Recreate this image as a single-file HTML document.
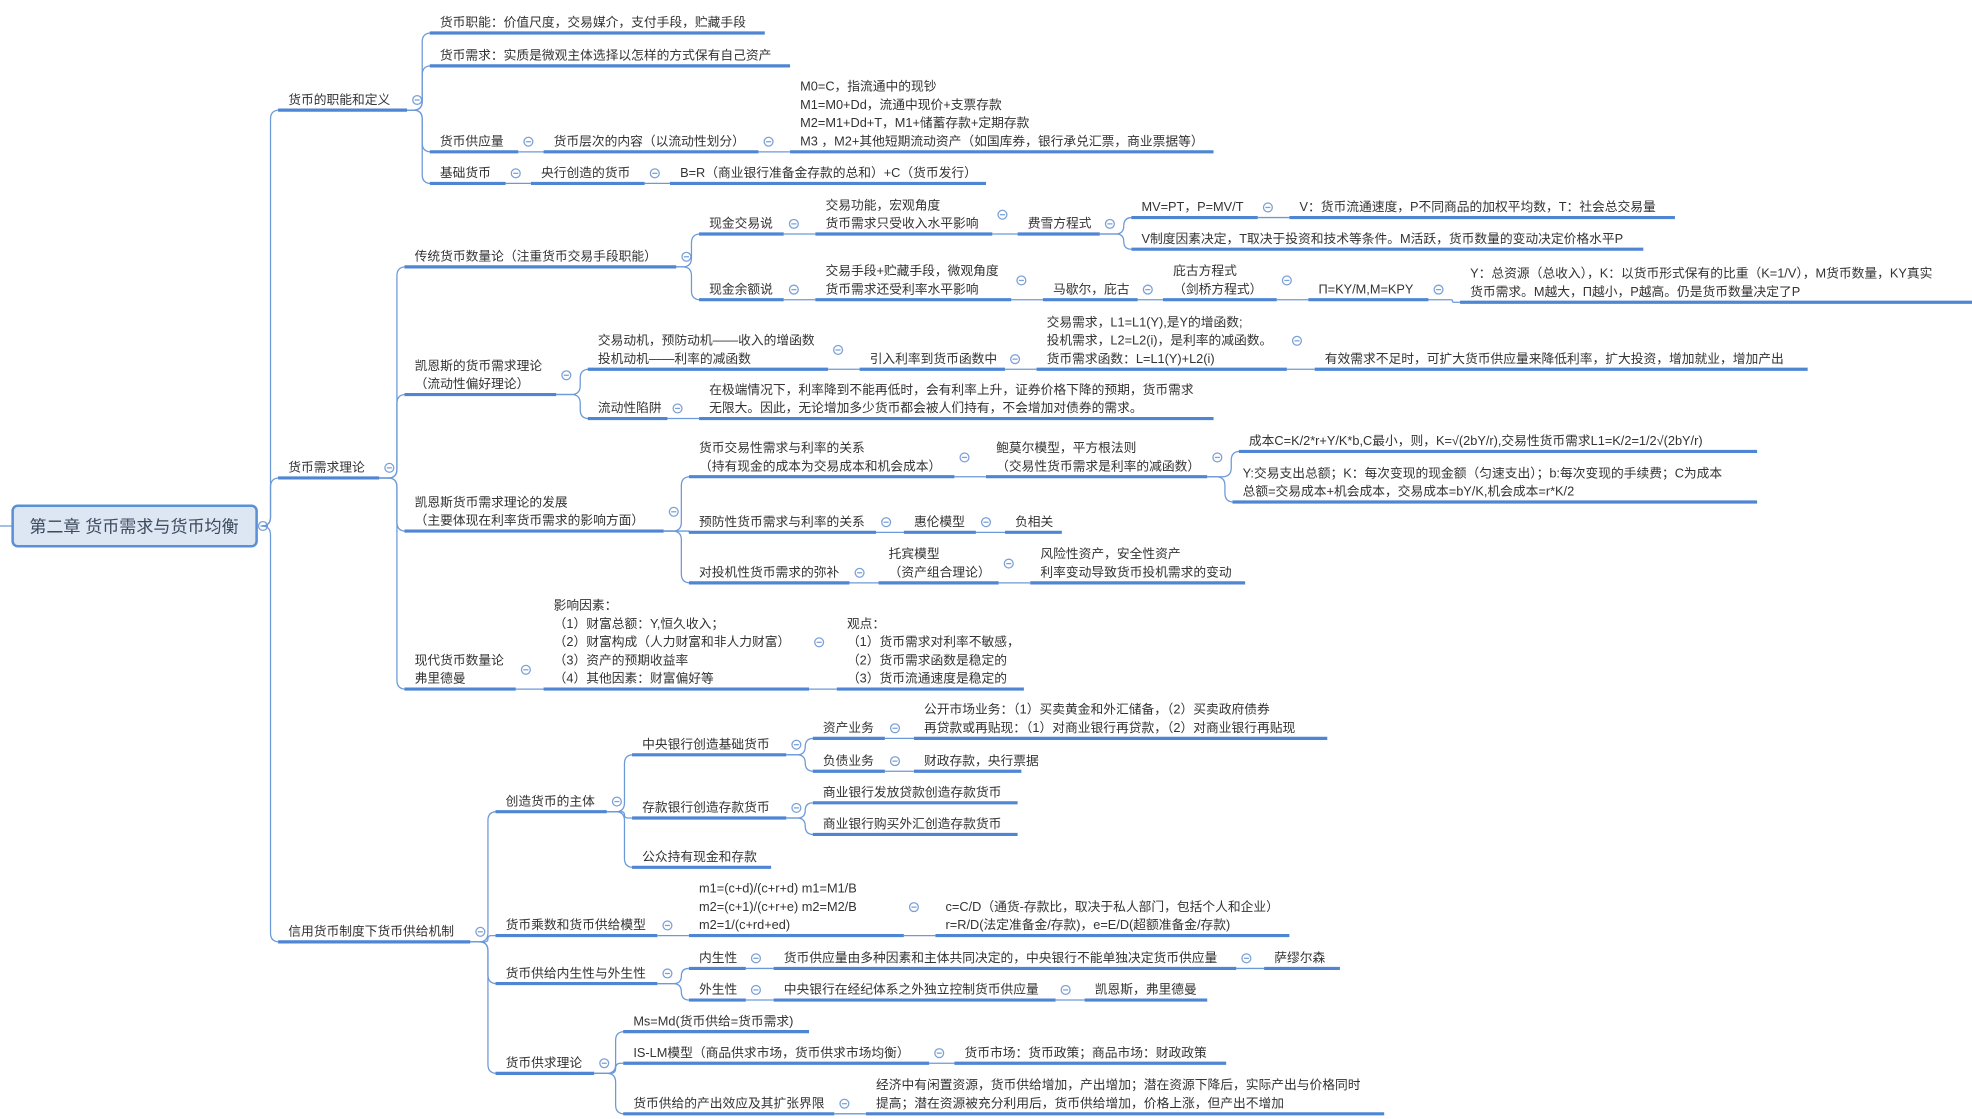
<!DOCTYPE html>
<html><head><meta charset="utf-8"><style>
html,body{margin:0;padding:0;background:#fff;width:1972px;height:1119px;overflow:hidden}
svg text{font-family:"Liberation Sans","Noto Sans CJK SC",sans-serif;font-size:10.1px;fill:#333}
</style></head><body>
<svg id="s" width="1972" height="1119" viewBox="0 0 1560 885" xmlns="http://www.w3.org/2000/svg">
<line x1="0" y1="416" x2="10" y2="416" stroke="#6c9ad8" stroke-width="1"/>
<rect x="10" y="400" width="193" height="32" rx="4" fill="#dde6f3" stroke="#5b8fd6" stroke-width="2"/>
<text x="106" y="421" text-anchor="middle" style="font-size:13.5px;fill:#3b4a5c">第二章  货币需求与货币均衡</text>
<circle cx="208" cy="416" r="3.5" fill="#fff" stroke="#7aa0d6" stroke-width="1"/><line x1="206" y1="416" x2="210" y2="416" stroke="#7aa0d6"/>
<g id="g"></g>
</svg>
<script>
function N(t,x1,x2,y,c,ch){return {t:t,x1:x1,x2:x2,y:y,c:c,ch:ch||[]};}
var tree=[
N(["货币的职能和定义"],220,322,87,1,[
 N(["货币职能：价值尺度，交易媒介，支付手段，贮藏手段"],340,605,26),
 N(["货币需求：实质是微观主体选择以怎样的方式保有自己资产"],340,625,52),
 N(["货币供应量"],340,410,120,1,[
  N(["货币层次的内容（以流动性划分）"],430,600,120,1,[
   N(["M0=C，指流通中的现钞","M1=M0+Dd，流通中现价+支票存款","M2=M1+Dd+T，M1+储蓄存款+定期存款","M3 ，M2+其他短期流动资产（如国库券，银行承兑汇票，商业票据等）"],625,960,120)])]),
 N(["基础货币"],340,400,145,1,[
  N(["央行创造的货币"],420,510,145,1,[
   N(["B=R（商业银行准备金存款的总和）+C（货币发行）"],530,780,145)])])]),
N(["货币需求理论"],220,300,378,1,[
 N(["传统货币数量论（注重货币交易手段职能）"],320,535,211,1,[
  N(["现金交易说"],553,620,185,1,[
   N(["交易功能，宏观角度","货币需求只受收入水平影响"],645,785,185,1,[
    N(["费雪方程式"],805,870,185,1,[
     N(["MV=PT，P=MV/T"],895,995,172,1,[
      N(["V：货币流通速度，P不同商品的加权平均数，T：社会总交易量"],1020,1325,172)]),
     N(["V制度因素决定，T取决于投资和技术等条件。M活跃，货币数量的变动决定价格水平P"],895,1300,197)])])]),
  N(["现金余额说"],553,620,237,1,[
   N(["交易手段+贮藏手段，微观角度","货币需求还受利率水平影响"],645,800,237,1,[
    N(["马歇尔，庇古"],825,900,237,1,[
     N(["庇古方程式","（剑桥方程式）"],920,1010,237,1,[
      N(["Π=KY/M,M=KPY"],1035,1130,237,1,[
       N(["Y：总资源（总收入），K：以货币形式保有的比重（K=1/V），M货币数量，KY真实","货币需求。M越大，Π越小，P越高。仍是货币数量决定了P"],1155,1560,239)])])])])])]),
 N(["凯恩斯的货币需求理论","（流动性偏好理论）"],320,440,312,1,[
  N(["交易动机，预防动机——收入的增函数","投机动机——利率的减函数"],465,655,292,1,[
   N(["引入利率到货币函数中"],680,795,292,1,[
    N(["交易需求，L1=L1(Y),是Y的增函数;","投机需求，L2=L2(i)，是利率的减函数。","货币需求函数：L=L1(Y)+L2(i)"],820,1018,292,1,[
     N(["有效需求不足时，可扩大货币供应量来降低利率，扩大投资，增加就业，增加产出"],1040,1430,292)])])]),
  N(["流动性陷阱"],465,528,331,1,[
   N(["在极端情况下，利率降到不能再低时，会有利率上升，证券价格下降的预期，货币需求","无限大。因此，无论增加多少货币都会被人们持有，不会增加对债券的需求。"],553,960,331)])]),
 N(["凯恩斯货币需求理论的发展","（主要体现在利率货币需求的影响方面）"],320,525,420,1,[
  N(["货币交易性需求与利率的关系","（持有现金的成本为交易成本和机会成本）"],545,755,377,1,[
   N(["鲍莫尔模型，平方根法则","（交易性货币需求是利率的减函数）"],780,955,377,1,[
    N(["成本C=K/2*r+Y/K*b,C最小，则，K=√(2bY/r),交易性货币需求L1=K/2=1/2√(2bY/r)"],980,1390,357),
    N(["Y:交易支出总额；K：每次变现的现金额（匀速支出）；b:每次变现的手续费；C为成本","总额=交易成本+机会成本，交易成本=bY/K,机会成本=r*K/2"],975,1390,397)])]),
  N(["预防性货币需求与利率的关系"],545,693,421,1,[
   N(["惠伦模型"],715,772,421,1,[
    N(["负相关"],795,840,421)])]),
  N(["对投机性货币需求的弥补"],545,672,461,1,[
   N(["托宾模型","（资产组合理论）"],695,790,461,1,[
    N(["风险性资产，安全性资产","利率变动导致货币投机需求的变动"],815,985,461)])])]),
 N(["现代货币数量论","弗里德曼"],320,408,545,1,[
  N(["影响因素：","（1）财富总额：Y,恒久收入；","（2）财富构成（人力财富和非人力财富）","（3）资产的预期收益率","（4）其他因素：财富偏好等"],430,640,545,1,[
   N(["观点：","（1）货币需求对利率不敏感，","（2）货币需求函数是稳定的","（3）货币流通速度是稳定的"],662,810,545)])])]),
N(["信用货币制度下货币供给机制"],220,372,745,1,[
 N(["创造货币的主体"],392,480,642,1,[
  N(["中央银行创造基础货币"],500,622,597,1,[
   N(["资产业务"],643,700,584,1,[
    N(["公开市场业务：（1）买卖黄金和外汇储备，（2）买卖政府债券","再贷款或再贴现：（1）对商业银行再贷款，（2）对商业银行再贴现"],723,1050,584)]),
   N(["负债业务"],643,700,610,1,[
    N(["财政存款，央行票据"],723,808,610)])]),
  N(["存款银行创造存款货币"],500,622,647,1,[
   N(["商业银行发放贷款创造存款货币"],643,805,635),
   N(["商业银行购买外汇创造存款货币"],643,805,660)]),
  N(["公众持有现金和存款"],500,610,686)]),
 N(["货币乘数和货币供给模型"],392,520,740,1,[
  N(["m1=(c+d)/(c+r+d)    m1=M1/B","m2=(c+1)/(c+r+e)    m2=M2/B","   m2=1/(c+rd+ed)"],545,715,740,1,[
   N(["c=C/D（通货-存款比，取决于私人部门，包括个人和企业）","r=R/D(法定准备金/存款)，e=E/D(超额准备金/存款)"],740,1020,740)])]),
 N(["货币供给内生性与外生性"],392,520,778,1,[
  N(["内生性"],545,590,766,1,[
   N(["货币供应量由多种因素和主体共同决定的，中央银行不能单独决定货币供应量"],612,978,766,1,[
    N(["萨缪尔森"],1000,1060,766)])]),
  N(["外生性"],545,590,791,1,[
   N(["中央银行在经纪体系之外独立控制货币供应量"],612,835,791,1,[
    N(["凯恩斯，弗里德曼"],858,955,791)])])]),
 N(["货币供求理论"],392,470,849,1,[
  N(["Ms=Md(货币供给=货币需求)"],493,640,816),
  N(["IS-LM模型（商品供求市场，货币供求市场均衡）"],493,735,841,1,[
   N(["货币市场：货币政策；商品市场：财政政策"],755,970,841)]),
  N(["货币供给的产出效应及其扩张界限"],493,660,881,1,[
   N(["经济中有闲置资源，货币供给增加，产出增加；潜在资源下降后，实际产出与价格同时","提高；潜在资源被充分利用后，货币供给增加，价格上涨，但产出不增加"],685,1095,881)])])])
];
var NS="http://www.w3.org/2000/svg",g=document.getElementById("g");
function el(n,a,txt){var e=document.createElementNS(NS,n);for(var k in a)e.setAttribute(k,a[k]);if(txt!=null)e.textContent=txt;g.appendChild(e);return e;}
function conn(sx,sy,cx,cy){
 var tr=cx-6,r=7,d;
 if(Math.abs(cy-sy)<2){d="M"+sx+","+sy+" H"+cx+" V"+cy;}
 else{var s=cy>sy?1:-1,rr=Math.min(r,Math.abs(cy-sy)/2);
  d="M"+sx+","+sy+" H"+(tr-rr)+" Q"+tr+","+sy+" "+tr+","+(sy+s*rr)+" V"+(cy-s*rr)+" Q"+tr+","+cy+" "+(tr+rr)+","+cy+" H"+cx;}
 el("path",{d:d,fill:"none",stroke:"#6c9ad8","stroke-width":1});
}
function circ(x,y){el("circle",{cx:x,cy:y,r:3.5,fill:"#fff",stroke:"#7aa0d6","stroke-width":1});el("line",{x1:x-2,y1:y,x2:x+2,y2:y,stroke:"#7aa0d6","stroke-width":1});}
function draw(n){
 var L=n.t.length;
 for(var i=0;i<L;i++){el("text",{x:n.x1+8,y:n.y-5-(L-1-i)*14.5},n.t[i]);}
 el("line",{x1:n.x1,y1:n.y,x2:n.x2,y2:n.y,stroke:"#4f86d4","stroke-width":2.5});
 if(n.c){circ(n.x2+8,n.y-8-(L-1)*7.25);}
 n.ch.forEach(function(c){conn(n.x2,n.y,c.x1,c.y);draw(c);});
}
tree.forEach(function(c){conn(212,416,c.x1,c.y);draw(c);});
</script>
</body></html>
